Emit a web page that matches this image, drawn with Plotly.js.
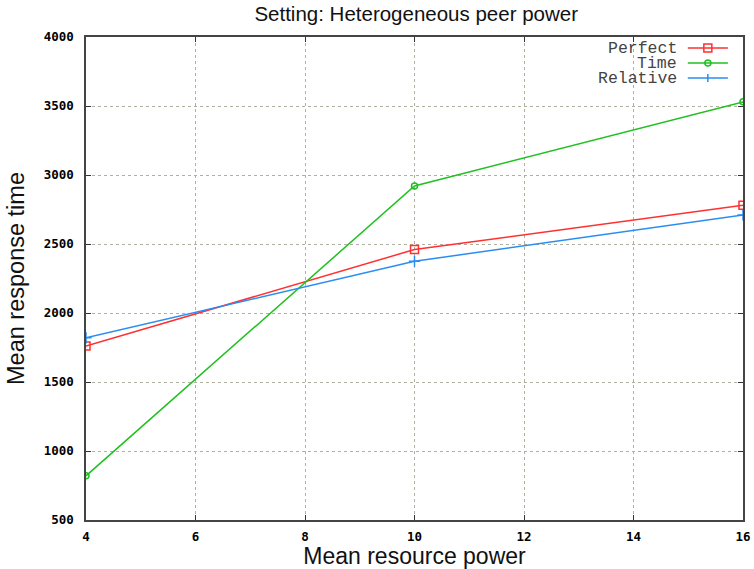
<!DOCTYPE html>
<html><head><meta charset="utf-8">
<script src="https://cdn.plot.ly/plotly-3.0.1.min.js"></script>
<style>html,body{margin:0;padding:0;background:#fff}#chart{width:754px;height:569px}</style>
</head><body><div id="chart"></div>
<script>
const xValues = [4, 10, 16];
const perfect = [1760, 2460, 2780];
const timeVals = [820, 2920, 3530];
const relative = [1820, 2375, 2710];
const seriesNames = ['Perfect', 'Time', 'Relative'];
const xTicks = [4, 6, 8, 10, 12, 14, 16];
const yTicks = [500, 1000, 1500, 2000, 2500, 3000, 3500, 4000];

const colors = ['#ff3030', '#20c020', '#2a8ef0'];
const symbols = ['square-open', 'circle-open', 'cross-thin-open'];
const data = [perfect, timeVals, relative].map((ys, i) => ({
  x: xValues, y: ys, name: seriesNames[i], type: 'scatter', mode: 'lines+markers',
  line: {color: colors[i], width: 1.5},
  marker: {symbol: symbols[i], size: i === 1 ? 6 : 8, color: colors[i], line: {color: colors[i], width: 1.5}},
  showlegend: false
}));

const tickFont = {family: 'DejaVu Sans Mono', size: 12.5, color: '#000', weight: 'bold'};
const axisCommon = {
  showline: true, mirror: 'ticks', linecolor: '#444', linewidth: 1.6,
  ticks: 'inside', ticklen: 5, tickcolor: '#333',
  showgrid: true, gridcolor: '#b0b0a0', griddash: 'dot', gridwidth: 1,
  zeroline: false, tickfont: tickFont
};

// Manual gnuplot-style legend (text right-aligned, sample on the right)
const annotations = [];
const shapes = [];
const legY = [0.977, 0.946, 0.915];
seriesNames.forEach((n, i) => {
  annotations.push({xref: 'paper', yref: 'paper', x: 0.903, y: legY[i], xanchor: 'right', yanchor: 'middle',
    text: n, showarrow: false, font: {family: 'Liberation Mono', size: 16.5, color: '#444'}});
  shapes.push({type: 'line', xref: 'paper', yref: 'paper', x0: 0.916, x1: 0.977, y0: legY[i], y1: legY[i],
    line: {color: colors[i], width: 1.5}});
});
// legend marker glyphs
const cx = 0.9465, pxX = 1/657, pxY = 1/483;
shapes.push({type: 'rect', xref: 'paper', yref: 'paper', x0: cx - 4*pxX, x1: cx + 4*pxX, y0: legY[0] - 4*pxY, y1: legY[0] + 4*pxY,
  line: {color: colors[0], width: 1.5}, fillcolor: 'rgba(0,0,0,0)'});
shapes.push({type: 'circle', xref: 'paper', yref: 'paper', x0: cx - 3*pxX, x1: cx + 3*pxX, y0: legY[1] - 3*pxY, y1: legY[1] + 3*pxY,
  line: {color: colors[1], width: 1.5}, fillcolor: 'rgba(0,0,0,0)'});
shapes.push({type: 'line', xref: 'paper', yref: 'paper', x0: cx, x1: cx, y0: legY[2] - 4*pxY, y1: legY[2] + 4*pxY,
  line: {color: colors[2], width: 1.5}});

const layout = {
  width: 754, height: 569,
  margin: {l: 86, r: 11, t: 37, b: 49},
  paper_bgcolor: '#fff', plot_bgcolor: '#fff',
  title: {text: 'Setting: Heterogeneous peer power', x: 0.552, xanchor: 'center', y: 0.975, yanchor: 'middle',
    font: {family: 'Liberation Sans', size: 20.5, color: '#111'}},
  xaxis: Object.assign({}, axisCommon, {range: [4, 16], tickvals: xTicks, ticktext: xTicks.map(String),
    ticklabelstandoff: 4,
    title: {text: 'Mean resource power', font: {family: 'Liberation Sans', size: 23, color: '#111'}, standoff: 0}}),
  yaxis: Object.assign({}, axisCommon, {range: [500, 4000], tickvals: yTicks, ticktext: yTicks.map(String),
    ticklabelstandoff: 8,
    title: {text: 'Mean response time', font: {family: 'Liberation Sans', size: 23.5, color: '#111'}, standoff: 12}}),
  annotations: annotations, shapes: shapes, showlegend: false
};
Plotly.newPlot('chart', data, layout, {displayModeBar: false, staticPlot: true});
</script></body></html>
